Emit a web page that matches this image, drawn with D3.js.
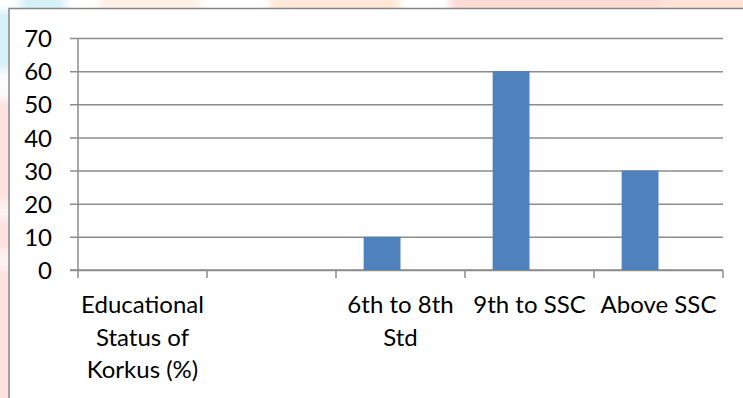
<!DOCTYPE html>
<html>
<head>
<meta charset="utf-8">
<script src="https://cdn.jsdelivr.net/npm/d3@7"></script>
<style>
  html, body { margin: 0; padding: 0; background: #fff; }
  svg { display: block; }
  text { font-family: Lato, "Open Sans", sans-serif; fill: #000; }
</style>
</head>
<body>
<svg id="chart" width="743" height="398"></svg>
<script>
// Category labels (multi-line labels split on "\n")
const categories = [
  "Educational\nStatus of\nKorkus (%)",
  "",
  "6th to 8th\nStd",
  "9th to SSC",
  "Above SSC"
];
// Series values (% of respondents); the second series has no entries
const seriesNames = ["Series1", "Series2"];
const series1 = [null, null, 10, 60, 30];
const series2 = [null, null, null, null, null];
const yTicks = [0, 10, 20, 30, 40, 50, 60, 70];

const W = 743, H = 398;
const FONT = "24px";
const svg = d3.select("#chart");

// Soft coloured page behind the chart frame
const defs = svg.append("defs");
defs.append("filter").attr("id", "soft")
  .attr("x", "-20%").attr("y", "-20%").attr("width", "140%").attr("height", "140%")
  .append("feGaussianBlur").attr("stdDeviation", 4);

const bg = svg.append("g").attr("filter", "url(#soft)");
const patches = [
  { x: -10, y: -10, w: 30, h: 30, c: "#ffffff" },
  { x: 20, y: -10, w: 45, h: 30, c: "#d6f0f8" },
  { x: -10, y: 10, w: 30, h: 60, c: "#d6f0f8" },
  { x: -10, y: 70, w: 30, h: 30, c: "#fbfbfb" },
  { x: -10, y: 100, w: 30, h: 310, c: "#fde0df" },
  { x: -10, y: 200, w: 30, h: 20, c: "#fcf2f2" },
  { x: -10, y: 250, w: 30, h: 20, c: "#fdf2f2" },
  { x: 100, y: -10, w: 100, h: 30, c: "#fdf0e6" },
  { x: 270, y: -10, w: 130, h: 30, c: "#fde8d8" },
  { x: 450, y: -10, w: 210, h: 30, c: "#fddcd6" },
  { x: 660, y: -10, w: 100, h: 30, c: "#fde2d6" }
];
bg.selectAll("rect").data(patches).join("rect")
  .attr("x", d => d.x).attr("y", d => d.y)
  .attr("width", d => d.w).attr("height", d => d.h)
  .attr("fill", d => d.c);

// Chart frame
svg.append("rect")
  .attr("x", 9).attr("y", 8.5)
  .attr("width", W + 20).attr("height", H + 20)
  .attr("fill", "#fff")
  .attr("stroke", "#868686").attr("stroke-width", 1.5);

const plot = { left: 78, right: 723, top: 38, bottom: 270 };

const x = d3.scaleBand()
  .domain(d3.range(categories.length))
  .range([plot.left, plot.right])
  .paddingInner(0).paddingOuter(0);

const xInner = d3.scaleBand()
  .domain(seriesNames)
  .range([0, x.bandwidth()])
  .paddingInner(0).paddingOuter(0.75);

const y = d3.scaleLinear().domain([0, 70]).range([plot.bottom, plot.top]);

const gridColor = "#8c8c8c";

// Horizontal gridlines with left tick marks and labels
const yAxis = d3.axisLeft(y)
  .tickValues(yTicks)
  .tickSize(-(plot.right - plot.left))
  .tickPadding(26)
  .tickFormat(d3.format("d"));
const gy = svg.append("g")
  .attr("transform", `translate(${plot.left},0)`)
  .call(yAxis);
gy.select(".domain").remove();
gy.selectAll(".tick line")
  .attr("x1", -8)
  .attr("stroke", gridColor).attr("stroke-width", 1.5);
gy.selectAll(".tick text")
  .style("font-size", FONT)
  .style("font-family", "Lato, 'Open Sans', sans-serif")
  .attr("dy", "0.36em");

// Value axis line
svg.append("line")
  .attr("x1", plot.left).attr("x2", plot.left)
  .attr("y1", y(70)).attr("y2", y(0))
  .attr("stroke", gridColor).attr("stroke-width", 1.5);

// Category axis line and boundary ticks
svg.append("line")
  .attr("x1", plot.left - 8).attr("x2", plot.right)
  .attr("y1", y(0)).attr("y2", y(0))
  .attr("stroke", gridColor).attr("stroke-width", 1.5);
const boundaries = d3.range(categories.length + 1)
  .map(i => i < categories.length ? x(i) : x(i - 1) + x.bandwidth());
svg.append("g").selectAll("line").data(boundaries).join("line")
  .attr("x1", d => d).attr("x2", d => d)
  .attr("y1", y(0)).attr("y2", y(0) + 8)
  .attr("stroke", gridColor).attr("stroke-width", 1.5);

// Bars
const rows = [series1, series2];
const barColor = "#4f81bd";
seriesNames.forEach((name, si) => {
  svg.append("g").selectAll("rect")
    .data(rows[si].map((v, i) => ({ i, v })).filter(d => d.v != null))
    .join("rect")
    .attr("x", d => x(d.i) + xInner(name))
    .attr("width", xInner.bandwidth())
    .attr("y", d => y(d.v))
    .attr("height", d => y(0) - y(d.v))
    .attr("fill", barColor);
});

// Category labels
const labels = svg.append("g").selectAll("text")
  .data(categories.map((c, i) => ({ c, i })))
  .join("text")
  .attr("text-anchor", "middle")
  .attr("x", d => x(d.i) + x.bandwidth() / 2)
  .attr("y", 313)
  .style("font-size", FONT);
labels.selectAll("tspan")
  .data(d => d.c.split("\n").map((t, k) => ({ t, k, cx: x(d.i) + x.bandwidth() / 2 })))
  .join("tspan")
  .attr("x", d => d.cx)
  .attr("dy", d => d.k === 0 ? 0 : 32.5)
  .text(d => d.t);
</script>
</body>
</html>
